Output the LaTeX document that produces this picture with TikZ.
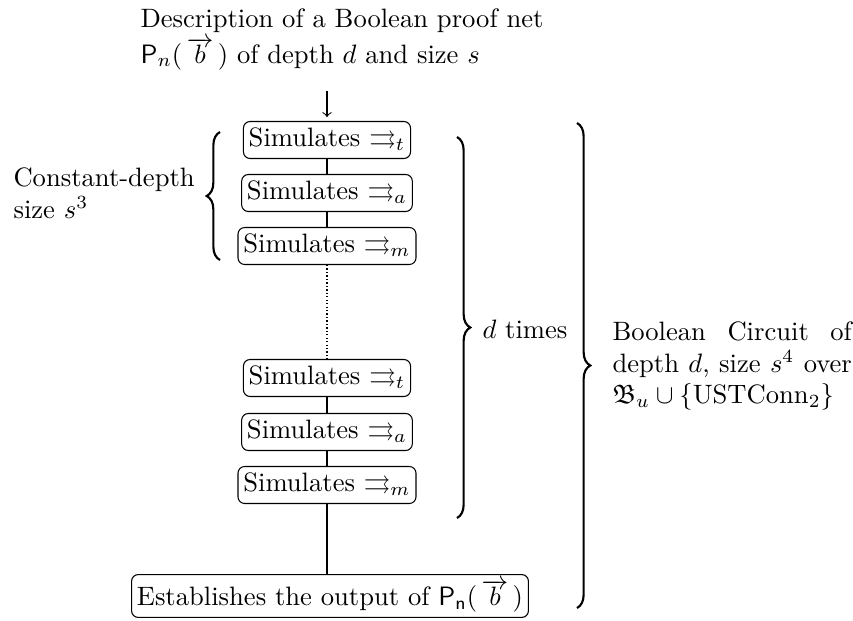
\documentclass[tikz,border=0pt]{standalone}
\usepackage{amssymb}
\usetikzlibrary{decorations.pathreplacing}

\begin{document}
\begin{tikzpicture}[x=0.376pt, y=-0.376pt,
    simbox/.style={draw, rounded corners=2.5pt, inner sep=2pt, minimum height=13.9pt},
    lbl/.style={inner sep=0pt},
    bigbrace/.style={decorate, decoration={brace, amplitude=5pt}, thick}]
    \useasboundingbox (0,0) rectangle (853,621);% keep the margins
    % Input
    \node[lbl, anchor=west, align=left] (title) at (140,39)
        {Description of a Boolean proof net\\[1.5pt]
        $\mathsf{P}_n(\,\overrightarrow{b}\,)$ of depth $d$ and size $s$};% the net
    % First layer
    \node[simbox] (simt) at (327,140) {Simulates $\rightrightarrows_t$};% t step
    \node[simbox] (sima) at (327,193) {Simulates $\rightrightarrows_a$};% a step
    \node[simbox] (simm) at (327,246) {Simulates $\rightrightarrows_m$};% m step
    % Last layer
    \node[simbox] (lastt) at (327,378) {Simulates $\rightrightarrows_t$};% t step
    \node[simbox] (lasta) at (327,432) {Simulates $\rightrightarrows_a$};% a step
    \node[simbox] (lastm) at (327,485) {Simulates $\rightrightarrows_m$};% m step
    \node[simbox] (output) at (330,596)
        {Establishes the output of $\mathsf{P}_\mathsf{n}(\,\overrightarrow{b}\,)$};% result
    % Links
    \draw[->, shorten <=8pt, shorten >=1.5pt] (title.south -| simt) -- (simt);% input arrow
    \draw (simt) -- (sima);%
    \draw (sima) -- (simm);%
    \draw[dash pattern=on 0.5pt off 0.8pt] (simm) -- (lastt);% the layers between
    \draw (lastt) -- (lasta);%
    \draw (lasta) -- (lastm);%
    \draw (lastm) -- (lastm |- output.north);%
    % Braces
    \coordinate (lbtop) at (220,132);%
    \coordinate (lbbot) at (220,260);%
    \draw[bigbrace] (lbbot) -- (lbtop);% one layer
    \node[lbl, anchor=west, align=left] (constlbl) at (13,193)
        {Constant-depth\\size $s^3$};%
    \coordinate (mbtop) at (457,137);%
    \coordinate (mbbot) at (457,518);%
    \draw[bigbrace] (mbtop) -- (mbbot);% all layers
    \node[lbl, anchor=west] (dtimes) at (482,329) {$d$ times};%
    \coordinate (rbtop) at (577,123);%
    \coordinate (rbbot) at (577,608);%
    \draw[bigbrace] (rbtop) -- (rbbot);% the whole circuit
    \node[lbl, anchor=west, text width=90pt, align=justify] (circlbl) at (612,366)
        {Boolean Circuit of\linebreak depth $d$, size $s^4$ over\linebreak
        $\mathfrak{B}_u\cup\{\mathrm{USTConn}_2\}$};%
\end{tikzpicture}
\end{document}
